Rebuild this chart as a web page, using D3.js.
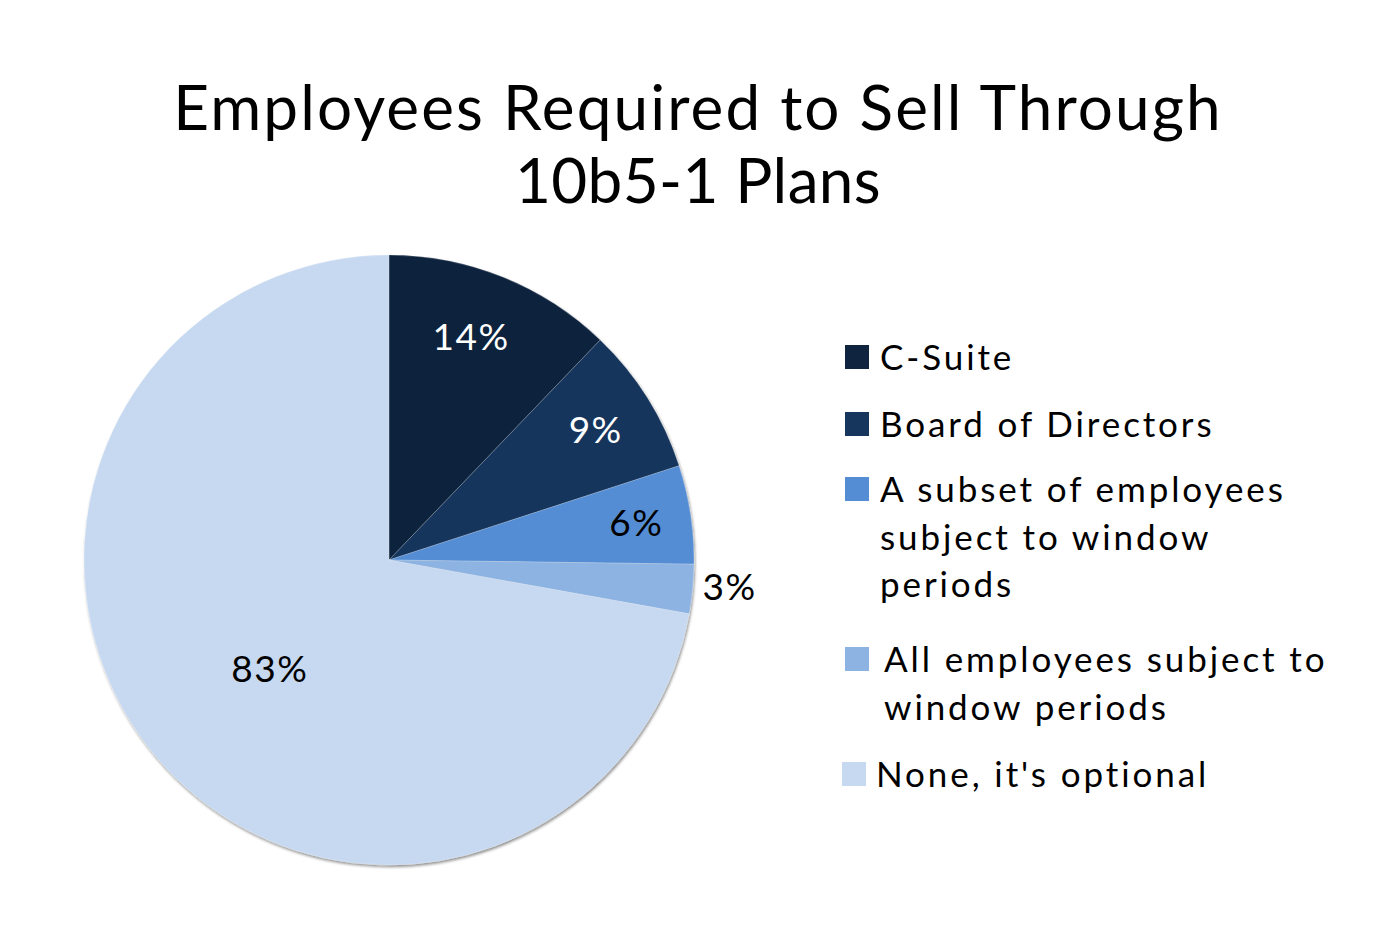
<!DOCTYPE html>
<html><head><meta charset="utf-8">
<script src="https://cdn.jsdelivr.net/npm/d3@7"></script>
<style>
html,body{margin:0;padding:0;background:#fff;}
svg text{font-family:Lato,"Open Sans",sans-serif;}
</style></head>
<body>
<svg id="chart" width="1400" height="933"></svg>
<script>
const titleLines = ["Employees Required to Sell Through", "10b5-1 Plans"];
const categories = ["C-Suite", "Board of Directors", "A subset of employees subject to window periods", "All employees subject to window periods", "None, it's optional"];
const legendLines = [["C-Suite"], ["Board of Directors"], ["A subset of employees", "subject to window", "periods"], ["All employees subject to", "window periods"], ["None, it's optional"]];
const values = [14, 9, 6, 3, 83];
const labels = ["14%", "9%", "6%", "3%", "83%"];
const colors = ["#0F243E", "#17365D", "#548DD4", "#8DB3E2", "#C6D9F1"];
const labelColors = ["#ffffff", "#ffffff", "#000000", "#000000", "#000000"];

const svg = d3.select("#chart");

// title
const titleSpacing = [2.1, 0.4];
svg.append("g").selectAll("text").data(titleLines).join("text")
  .attr("x", 698).attr("y", (d, i) => 130 + i * 73)
  .attr("text-anchor", "middle")
  .attr("font-size", 62).attr("fill", "#000")
  .attr("letter-spacing", (d, i) => titleSpacing[i])
  .text(d => d);

// shadow filter
const defs = svg.append("defs");
const f = defs.append("filter").attr("id", "sh").attr("x", "-10%").attr("y", "-10%").attr("width", "120%").attr("height", "120%");
f.append("feGaussianBlur").attr("in", "SourceAlpha").attr("stdDeviation", 1.5);
f.append("feOffset").attr("dx", 1).attr("dy", 2).attr("result", "ob");
f.append("feComponentTransfer").append("feFuncA").attr("type", "linear").attr("slope", 0.45);
const m = f.append("feMerge"); m.append("feMergeNode"); m.append("feMergeNode").attr("in", "SourceGraphic");

const cx = 389, cy = 560, r = 305;
const pie = d3.pie().sort(null).value(d => d)(values);
const arc = d3.arc().innerRadius(0).outerRadius(r);
const g = svg.append("g").attr("transform", `translate(${cx},${cy})`);
g.append("g").attr("filter", "url(#sh)").selectAll("path").data(pie).join("path")
  .attr("d", arc)
  .attr("fill", (d, i) => colors[i])
  .attr("stroke", "rgba(255,255,255,0.25)").attr("stroke-width", 0.8);

// label placement (Excel best-fit): radial factor and angle nudge
const labelRadius = [0.78, 0.8, 0.82, 1.12, 0.53];
const labelNudge = [-0.03, 0, 0, -0.015, -0.045];
const pos = (d, i) => { const a = (d.startAngle + d.endAngle) / 2 + labelNudge[i]; return [Math.sin(a) * r * labelRadius[i], -Math.cos(a) * r * labelRadius[i]]; };
g.selectAll("text.lbl").data(pie).join("text").attr("class", "lbl")
  .attr("x", (d, i) => pos(d, i)[0])
  .attr("y", (d, i) => pos(d, i)[1])
  .attr("dy", "0.35em")
  .attr("text-anchor", "middle")
  .attr("font-size", 37)
  .attr("letter-spacing", 1.5)
  .attr("fill", (d, i) => labelColors[i])
  .text((d, i) => labels[i]);

// legend
const rowTop = [345, 412, 477, 647, 762];
const rowX = [845, 845, 845, 845, 842];
const textX = [35, 35, 35, 39, 34];
const lg = svg.append("g");
legendLines.forEach((lines, i) => {
  const row = lg.append("g").attr("transform", `translate(${rowX[i]},${rowTop[i]})`);
  row.append("rect").attr("width", 24).attr("height", 24).attr("fill", colors[i]);
  row.selectAll("text").data(lines).join("text")
    .attr("x", textX[i]).attr("y", (d, j) => 25 + j * 47.5)
    .attr("font-size", 35).attr("fill", "#000")
    .attr("letter-spacing", 2.9)
    .text(d => d);
});
</script>
</body></html>
